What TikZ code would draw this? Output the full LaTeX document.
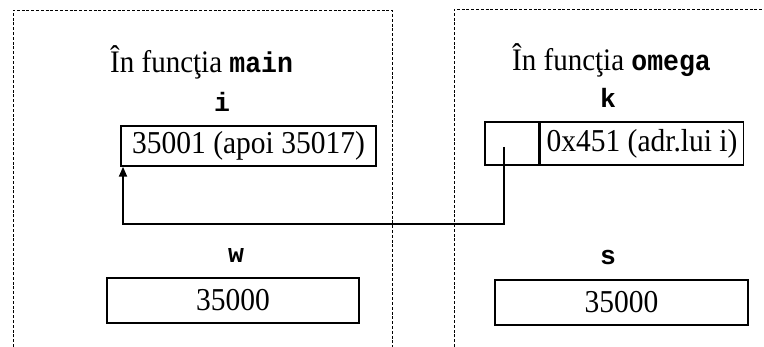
\documentclass[tikz,border=0pt]{standalone}
\usepackage{fontspec}
\usepackage{graphicx}
\setmainfont{Liberation Serif}
\newfontfamily\codefont{Liberation Mono}
\usetikzlibrary{arrows.meta}
% serif text is set slightly taller than wide
\newcommand{\tallt}[1]{\scalebox{1}[1.08]{#1}}
\newcommand{\code}[1]{{\fontsize{26.5}{30}\selectfont\codefont\bfseries #1}}
\begin{document}
\begin{tikzpicture}[x=1pt,y=-1pt,
  frame/.style={draw,line width=0.9pt,dash pattern=on 3pt off 1.8pt},
  cell/.style={draw,line width=1.5pt,inner sep=0pt,font=\fontsize{29.5}{32}\selectfont},
  title/.style={anchor=base west,inner sep=0pt,font=\fontsize{29}{32}\selectfont},
  varname/.style={anchor=base,inner sep=0pt,font=\fontsize{26.5}{30}\selectfont\codefont\bfseries},
  ptr/.style={line width=2pt,-{Triangle[length=10pt,width=8pt]}}]
\useasboundingbox (0,0) rectangle (764,347);

% stack frames of the two functions
\draw[frame] (13,347) -- (13,10) -- (392,10) -- (392,347);
\draw[frame] (454,347) -- (454,9) -- (764,9);

% frame of main
\node[title] (tmain) at (110,72.5) {\tallt{În funcţia \code{main}}};
\node[varname] (ni) at (222,112) {i};
\node[cell,minimum width=255pt,minimum height=40pt] (iv) at (248.5,146) {\tallt{35001 (apoi 35017)}};
\node[varname] (nw) at (236,263) {w};
\node[cell,minimum width=252pt,minimum height=45pt] (wv) at (233,300.5) {\tallt{35000}};

% frame of omega
\node[title] (tomega) at (512,71) {\tallt{În funcţia \code{omega}}};
\node[varname] (nk) at (608,108) {k};
\node[cell,minimum width=54pt,minimum height=43pt] (kp) at (512,143.5) {};
\node[cell,minimum width=203pt,minimum height=43pt,anchor=west] (kv) at (kp.east) {\tallt{0x451 (adr.lui i)}};
\node[varname] (ns) at (608,265) {s};
\node[cell,minimum width=253pt,minimum height=45pt] (sv) at (621.5,302.5) {\tallt{35000}};

% pointer from k to i
\coordinate (kstart) at (504,147);
\coordinate (bend) at (123,224);
\draw[ptr] (kstart) |- (bend) -- (bend |- iv.south);
\end{tikzpicture}
\end{document}
